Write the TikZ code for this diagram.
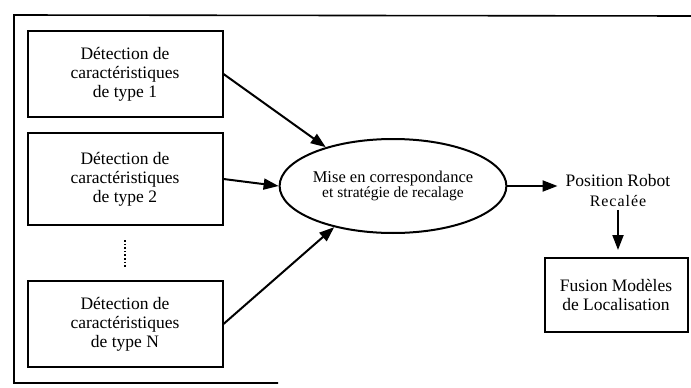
\documentclass[tikz,border=0pt]{standalone}
\usepackage{fontspec}
\setmainfont{Liberation Serif}
\usetikzlibrary{arrows.meta,shapes.geometric}

\begin{document}
\begin{tikzpicture}[x=1pt,y=-1pt,
  detect/.style={draw,line width=2pt,minimum width=195pt,minimum height=86pt,
    align=center,inner sep=2pt,font=\fontsize{17.5}{19}\selectfont},
  fleche/.style={-{Triangle[length=15pt,width=11pt]},line width=2pt}]
  % Cadre
  \useasboundingbox (0,0) rectangle (691,388);
  \draw[line width=1.6pt] (691,16) -- (14,15) -- (14,383) -- (278,383);

  % Detecteurs
  \node[detect] (det1) at (125,74) {Détection de\\caractéristiques\\de type 1};
  \node[detect,minimum height=92pt] (det2) at (125,179) {Détection de\\caractéristiques\\de type 2};
  \node[detect] (detN) at (125,324) {Détection de\\caractéristiques\\de type N};
  \draw[line width=1.6pt,dotted] (125,240) -- (125,268);

  % Mise en correspondance
  \node[ellipse,draw,line width=2pt,minimum width=190pt,minimum height=94pt,inner sep=0pt,align=center]
    (match) at (393,186) {\fontsize{16.5}{17}\selectfont Mise en correspondance\\[-1pt]
      \fontsize{15.5}{16}\selectfont et stratégie de recalage};

  % Position et fusion
  \node[inner sep=0pt,font=\fontsize{17.5}{18}\selectfont] (pos) at (618,181) {Position Robot};
  \node[inner sep=0pt,font=\fontsize{16}{17}\selectfont\addfontfeatures{LetterSpace=6}] (recal) at (618,201) {Recalée};
  \node[draw,line width=2pt,minimum width=143pt,minimum height=74pt,align=center,
    font=\fontsize{17.5}{19}\selectfont] (fusion) at (616,295) {Fusion Modèles\\de Localisation};

  % Fleches
  \draw[fleche] (det1.east) -- (match.150);
  \draw[fleche] (det2.east) -- (match.west);
  \draw[fleche] (detN.east) -- (match.215);
  \draw[fleche,shorten >=8pt] (match.east) -- (pos.west |- match.east);
  \draw[fleche,shorten <=3pt,shorten >=7pt] (recal.south) -- (fusion.north -| recal.south);
\end{tikzpicture}
\end{document}
